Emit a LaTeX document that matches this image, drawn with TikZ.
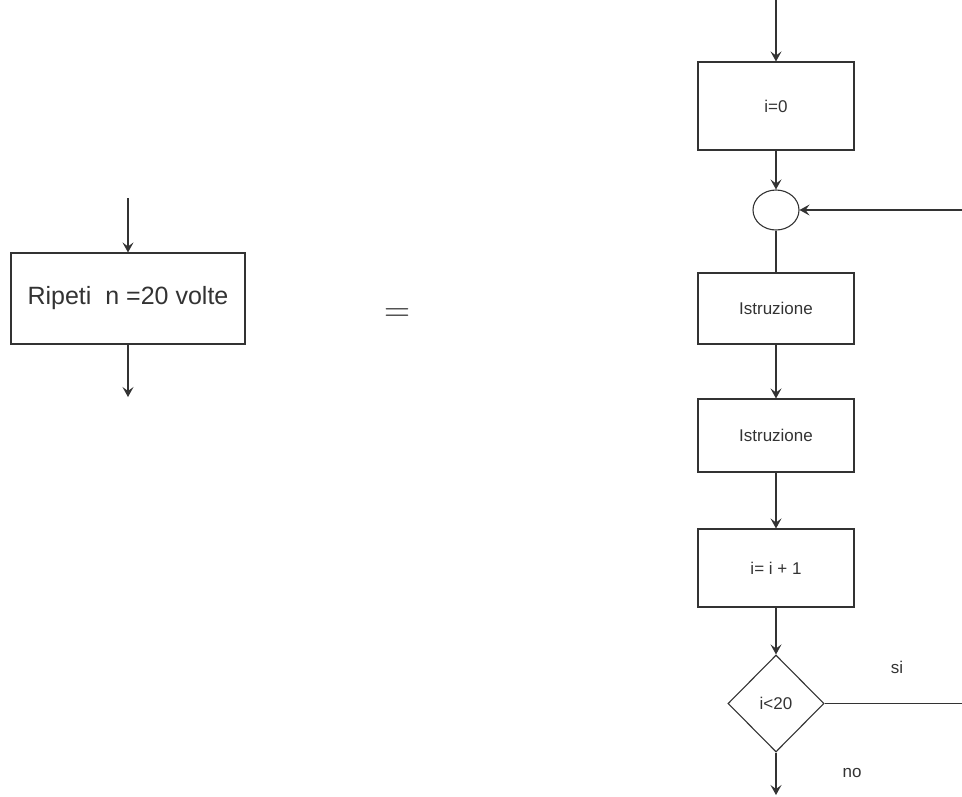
\documentclass[tikz,border=0pt]{standalone}
\usepackage{fontspec}
\setmainfont{Liberation Sans}
\usetikzlibrary{arrows.meta,shapes.geometric}
\definecolor{ink}{HTML}{333333}
\begin{document}
\begin{tikzpicture}[x=1pt,y=-1pt,
  block/.style={draw=ink, line width=1.1pt, rectangle, minimum width=156pt,
    inner sep=0pt, text=ink, font=\fontsize{17}{20}\selectfont},
  label/.style={text=ink, inner sep=0pt, font=\fontsize{17}{20}\selectfont},
  flow/.style={draw=ink, line width=1.1pt, -{Stealth[length=10pt,width=11pt,inset=4pt]}},
  plain/.style={draw=ink, line width=1.1pt}]
\useasboundingbox (0,0) rectangle (962,796);

% compact loop block
\node[block, minimum width=234pt, minimum height=91pt,
  font=\fontsize{25}{29}\selectfont] (rep) at (128,298.5) {Ripeti\ \ n =20 volte};
\coordinate (repin) at (128,198);
\coordinate (repout) at (128,397);
\draw[flow] (repin) -- (rep.north);
\draw[flow] (rep.south) -- (repout);

\node[text=ink, inner sep=0pt, font=\fontsize{24}{28}\selectfont] (eq) at (397,315)
  {\scalebox{1.45}{$=$}};

% expanded loop
\node[block, minimum height=88pt] (init) at (776,106) {i=0};
\node[ellipse, draw=ink, line width=1.1pt, minimum width=46pt, minimum height=40pt,
  inner sep=0pt] (join) at (776,210) {};
\node[block, minimum height=71pt] (s1) at (776,308.5) {Istruzione};
\node[block, minimum height=73pt] (s2) at (776,435.5) {Istruzione};
\node[block, minimum height=78pt] (inc) at (776,568) {i= i + 1};
\node[diamond, draw=ink, line width=1.1pt, minimum width=96pt, minimum height=97pt,
  inner sep=0pt, text=ink, font=\fontsize{17}{20}\selectfont] (test) at (776,703.5) {i<20};

\coordinate (top) at (776,0);
\coordinate (back) at (962,210);
\coordinate (yes) at (962,703.5);
\coordinate (out) at (776,795);

\draw[flow] (top) -- (init.north);
\draw[flow] (init.south) -- (join.north);
\draw[flow] (back) -- (join.east);
\draw[plain] (join.south) -- (s1.north);
\draw[flow] (s1.south) -- (s2.north);
\draw[flow] (s2.south) -- (inc.north);
\draw[flow] (inc.south) -- (test.north);
\draw[plain] (test.east) -- (yes);
\draw[flow] (test.south) -- (out);

\node[label] (si) at (897,667) {si};
\node[label] (no) at (852,773) {no};
\end{tikzpicture}
\end{document}
